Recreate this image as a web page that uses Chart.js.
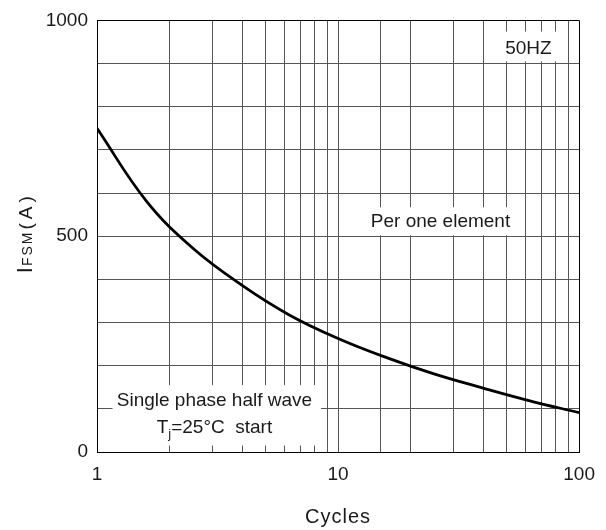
<!DOCTYPE html>
<html>
<head>
<meta charset="utf-8">
<script src="https://cdn.jsdelivr.net/npm/chart.js@4.4.1/dist/chart.umd.min.js"></script>
<style>
  html, body { margin: 0; padding: 0; background: #fff; }
  #wrap { width: 606px; height: 530px; }
</style>
</head>
<body>
<div id="wrap"><canvas id="surgeChart"></canvas></div>
<script>
const cycles = [1, 1.6, 2.5, 4, 6.3, 10, 16, 25, 40, 63, 100];
const ifsm = [750, 582, 472, 386, 317, 263, 218, 181, 148, 118, 91];
const xTickLabels = [1, 10, 100];
const yTickLabels = [0, 500, 1000];

const FONT = "'Liberation Sans', Arial, sans-serif";
const INK = '#1a1a1a';

// text boxes inside the plot: box = [x1, x2, yTop, yBottom] in data units
const notes = [
    { box: [46, 86, 974, 905], lines: [{ at: [61.6, 921], runs: [{ t: '50HZ' }] }] },
    { box: [12.2, 59, 567, 502], lines: [{ at: [26.6, 521], runs: [{ t: 'Per one element' }] }] },
    { box: [1.16, 8.5, 155, 15], lines: [
        { at: [3.07, 106], runs: [{ t: 'Single phase half wave' }] },
        { at: [3.07, 45], runs: [{ t: 'T' }, { t: 'j', sub: true }, { t: '=25°C  start' }] }
    ] }
];

function drawRuns(ctx, runs, cx, base) {
    let widths = runs.map(r => {
        ctx.font = (r.sub ? '13px ' : '19px ') + FONT;
        return ctx.measureText(r.t).width;
    });
    let x = cx - widths.reduce((a, b) => a + b, 0) / 2;
    runs.forEach((r, i) => {
        ctx.font = (r.sub ? '13px ' : '19px ') + FONT;
        ctx.fillText(r.t, x, base + (r.sub ? 5 : 0));
        x += widths[i];
    });
}

const notesPlugin = {
    id: 'notes',
    beforeDatasetsDraw(chart) {
        const { ctx, scales: { x, y } } = chart;
        ctx.save();
        notes.forEach(n => {
            const x1 = x.getPixelForValue(n.box[0]), x2 = x.getPixelForValue(n.box[1]);
            const y1 = y.getPixelForValue(n.box[2]), y2 = y.getPixelForValue(n.box[3]);
            ctx.fillStyle = '#fff';
            ctx.fillRect(x1, y1, x2 - x1, y2 - y1);
            ctx.fillStyle = INK;
            ctx.textAlign = 'left';
            ctx.textBaseline = 'alphabetic';
            n.lines.forEach(l => {
                drawRuns(ctx, l.runs, x.getPixelForValue(l.at[0]), y.getPixelForValue(l.at[1]));
            });
        });
        ctx.restore();
    },
    afterDraw(chart) {
        const { ctx, chartArea } = chart;
        ctx.save();
        ctx.fillStyle = INK;
        ctx.textBaseline = 'alphabetic';
        ctx.textAlign = 'center';
        // x title
        ctx.font = '20px ' + FONT;
        ctx.letterSpacing = '1px';
        ctx.fillText('Cycles', (chartArea.left + chartArea.right) / 2, chartArea.bottom + 71);
        // y title with subscript
        ctx.textAlign = 'left';
        ctx.translate(chartArea.left - 65, (chartArea.top + chartArea.bottom) / 2 + 37);
        ctx.rotate(-Math.PI / 2);
        let px = 0;
        [['I', '22px', '0px'], ['FSM', '14px', '2px'], ['(A)', '19px', '4px']].forEach(p => {
            ctx.font = p[1] + ' ' + FONT;
            ctx.letterSpacing = p[2];
            ctx.fillText(p[0], px, 0);
            px += ctx.measureText(p[0]).width + 1;
        });
        ctx.restore();
    }
};

const ctx = document.getElementById('surgeChart');

new Chart(ctx, {
    type: 'line',
    data: {
        datasets: [{
            data: cycles.map((c, i) => ({ x: c, y: ifsm[i] })),
            borderColor: '#000',
            borderWidth: 2.8,
            pointRadius: 0,
            tension: 0.4,
            fill: false
        }]
    },
    options: {
        responsive: true,
        maintainAspectRatio: false,
        animation: false,
        layout: { padding: { top: 19, right: 25, left: 0, bottom: 0 } },
        plugins: {
            legend: { display: false },
            tooltip: { enabled: false }
        },
        scales: {
            x: {
                type: 'logarithmic',
                min: 1,
                max: 100,
                afterFit: s => { s.height = 78; },
                grid: {
                    drawTicks: false,
                    color: c => (c.tick && c.tick.value === 100) ? '#000' : '#555',
                    lineWidth: 1
                },
                border: { display: true, color: '#000', width: 1 },
                ticks: {
                    autoSkip: false,
                    maxRotation: 0,
                    padding: 11,
                    color: INK,
                    font: { family: FONT, size: 19 },
                    callback: v => xTickLabels.includes(v) ? String(v) : ''
                }
            },
            y: {
                min: 0,
                max: 1000,
                afterFit: s => { s.width = 97; },
                grid: {
                    drawTicks: false,
                    color: c => (c.tick && c.tick.value === 1000) ? '#000' : '#555',
                    lineWidth: 1
                },
                border: { display: true, color: '#000', width: 1 },
                ticks: {
                    stepSize: 100,
                    padding: 9,
                    color: INK,
                    font: { family: FONT, size: 19 },
                    callback: v => yTickLabels.includes(v) ? String(v) : ''
                }
            }
        }
    },
    plugins: [notesPlugin]
});
</script>
</body>
</html>
